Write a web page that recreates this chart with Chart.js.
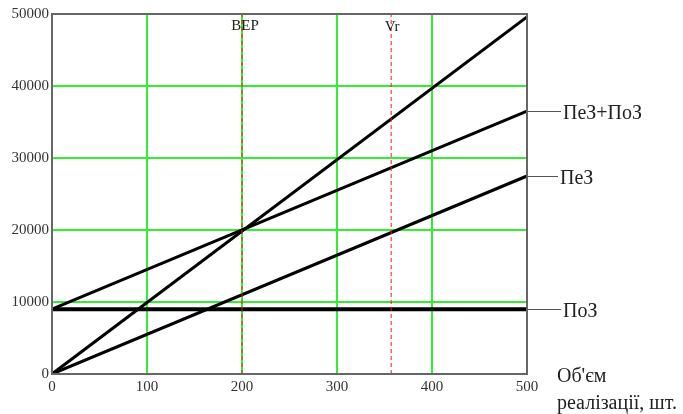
<!DOCTYPE html>
<html>
<head>
<meta charset="utf-8">
<script src="https://cdn.jsdelivr.net/npm/chart.js@4"></script>
<style>
  html, body { margin: 0; padding: 0; background: #fff; }
  #wrap { width: 683px; height: 414px; }
</style>
</head>
<body>
<div id="wrap"><canvas id="chart"></canvas></div>
<script>
// Обсяг реалізації (шт.) - кінцеві точки прямих
const volumes = [0, 500];
const revenue = [0, 49600];          // виручка
const varCost = [0, 27500];          // ПеЗ
const totalCost = [9000, 36500];     // ПеЗ+ПоЗ
const fixedCost = [9000, 9000];      // ПоЗ
const bepVolume = 200;
const vrVolume = 357;
const xStep = 100;
const yStep = 10000;
const xMax = 500;
const yMax = 50000;

const FONT = '"Liberation Serif", "Times New Roman", serif';

function pts(ys) {
    return volumes.map((x, i) => ({ x: x, y: ys[i] }));
}

function vline(x) {
    return [{ x: x, y: 0 }, { x: x, y: yMax }];
}

// Підписи справа, рамка та позначки BEP / Vr
const annotations = {
    id: 'annotations',
    afterDatasetsDraw(chart) {
        const ctx = chart.ctx;
        const area = chart.chartArea;
        const xs = chart.scales.x;
        const ys = chart.scales.y;
        ctx.save();

        // frame
        ctx.strokeStyle = '#666';
        ctx.lineWidth = 2;
        ctx.strokeRect(area.left, area.top, area.right - area.left, area.bottom - area.top);

        // BEP and Vr labels
        ctx.fillStyle = '#222';
        ctx.font = '15px ' + FONT;
        ctx.textAlign = 'center';
        ctx.textBaseline = 'middle';
        ctx.fillText('BEP', xs.getPixelForValue(bepVolume) + 3, area.top + 12);
        ctx.fillText('Vr', xs.getPixelForValue(vrVolume) + 1, area.top + 13);

        // right side labels
        const labels = [
            { text: 'ПеЗ+ПоЗ', y: totalCost[1], gap: 34 },
            { text: 'ПеЗ', y: varCost[1], gap: 31 },
            { text: 'ПоЗ', y: fixedCost[1], gap: 34 }
        ];
        ctx.font = '20px ' + FONT;
        ctx.textAlign = 'left';
        labels.forEach(l => {
            const py = Math.round(ys.getPixelForValue(l.y)) + 0.5;
            ctx.strokeStyle = '#555';
            ctx.lineWidth = 1;
            ctx.beginPath();
            ctx.moveTo(area.right, py);
            ctx.lineTo(area.right + l.gap, py);
            ctx.stroke();
            ctx.fillStyle = '#222';
            ctx.fillText(l.text, area.right + l.gap + 2, py + 2);
        });

        // axis title
        ctx.fillText("Об'єм", area.right + 30, area.bottom + 3);
        ctx.fillText('реалізації, шт.', area.right + 30, area.bottom + 30);
        ctx.restore();
    }
};

const lineStyle = { borderColor: '#000', borderWidth: 3, pointRadius: 0, showLine: true, fill: false };

new Chart(document.getElementById('chart'), {
    type: 'scatter',
    data: {
        datasets: [
            { label: 'BEP', data: vline(bepVolume), borderColor: '#ff1010', borderWidth: 1, borderDash: [4, 3], pointRadius: 0, showLine: true },
            { label: 'Vr', data: vline(vrVolume), borderColor: '#ff1010', borderWidth: 1, borderDash: [4, 3], pointRadius: 0, showLine: true },
            Object.assign({ label: 'Виручка', data: pts(revenue) }, lineStyle),
            Object.assign({ label: 'ПеЗ+ПоЗ', data: pts(totalCost) }, lineStyle),
            Object.assign({ label: 'ПеЗ', data: pts(varCost) }, lineStyle),
            Object.assign({ label: 'ПоЗ', data: pts(fixedCost) }, lineStyle, { borderWidth: 4 })
        ]
    },
    options: {
        responsive: true,
        maintainAspectRatio: false,
        animation: false,
        layout: { padding: { top: 14, right: 156, left: 0, bottom: 0 } },
        plugins: {
            legend: { display: false },
            tooltip: { enabled: false }
        },
        scales: {
            x: {
                type: 'linear',
                min: 0,
                max: xMax,
                afterFit: s => { s.height = 40; },
                grid: { color: '#30f030', lineWidth: 2, drawTicks: false },
                border: { display: false },
                ticks: {
                    stepSize: xStep,
                    color: '#333',
                    font: { family: FONT, size: 15 },
                    padding: 4,
                    maxRotation: 0,
                    callback: v => String(v)
                }
            },
            y: {
                min: 0,
                max: yMax,
                afterFit: s => { s.width = 52; },
                grid: { color: '#30f030', lineWidth: 2, drawTicks: false },
                border: { display: false },
                ticks: {
                    stepSize: yStep,
                    color: '#333',
                    font: { family: FONT, size: 15 },
                    padding: 3,
                    callback: v => String(v)
                }
            }
        }
    },
    plugins: [annotations]
});
</script>
</body>
</html>
